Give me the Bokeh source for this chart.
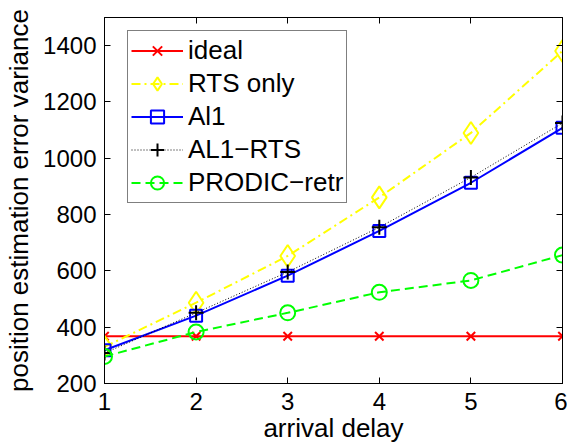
from bokeh.plotting import figure
from bokeh.models import LinearAxis, Range1d, FixedTicker, Legend
from bokeh.embed import file_html
from bokeh.resources import INLINE

delay = [1, 2, 3, 4, 5, 6]
ideal = [368, 368, 368, 368, 368, 368]
rts_only = [330, 487, 653, 861, 1090, 1381]
al1 = [318, 441, 583, 742, 913, 1108]
al1_rts = [308, 451, 596, 755, 932, 1125]
prodic = [296, 383, 451, 524, 566, 656]

x_ticks = [1, 2, 3, 4, 5, 6]
y_ticks = [200, 400, 600, 800, 1000, 1200, 1400]

FONT = "Liberation Sans"
TICK_FS = "24px"
LABEL_FS = "26px"

p = figure(width=567, height=445, output_backend="svg", toolbar_location=None,
           x_range=Range1d(1, 6), y_range=Range1d(200, 1500),
           min_border_left=104, min_border_right=5, min_border_top=17, min_border_bottom=60)
p.xgrid.visible = False
p.ygrid.visible = False
p.outline_line_color = "black"
p.outline_line_width = 1

for ax in (p.xaxis[0], p.yaxis[0]):
    ax.major_tick_in = 6
    ax.major_tick_out = 0
    ax.minor_tick_in = 0
    ax.minor_tick_out = 0
    ax.major_label_text_font = FONT
    ax.major_label_text_font_size = TICK_FS
    ax.major_label_text_color = "black"
    ax.axis_label_text_font = FONT
    ax.axis_label_text_font_size = LABEL_FS
    ax.axis_label_text_font_style = "normal"
    ax.axis_label_text_color = "black"
    ax.axis_line_color = "black"
    ax.major_tick_line_color = "black"

p.xaxis[0].ticker = FixedTicker(ticks=x_ticks)
p.yaxis[0].ticker = FixedTicker(ticks=y_ticks)
p.xaxis[0].axis_label = "arrival delay"
p.yaxis[0].axis_label = "position estimation error variance"
p.xaxis[0].major_label_standoff = 9
p.yaxis[0].major_label_standoff = 8
p.xaxis[0].axis_label_standoff = 0
p.xaxis[0].axis_label_text_line_height = 0.6
p.yaxis[0].axis_label_standoff = 6

right = LinearAxis(ticker=FixedTicker(ticks=y_ticks), major_label_text_font_size="0px",
                   major_tick_in=6, major_tick_out=0, minor_tick_in=0, minor_tick_out=0,
                   major_label_standoff=0, axis_line_color="black", major_tick_line_color="black")
top = LinearAxis(ticker=FixedTicker(ticks=x_ticks), major_label_text_font_size="0px",
                 major_tick_in=6, major_tick_out=0, minor_tick_in=0, minor_tick_out=0,
                 major_label_standoff=0, axis_line_color="black", major_tick_line_color="black")
p.add_layout(right, "right")
p.add_layout(top, "above")

items = []
r1 = p.line(delay, ideal, line_color="red", line_width=2)
m1 = p.scatter(delay, ideal, marker="x", size=12, line_color="red", line_width=2)
items.append(("ideal", [r1, m1]))

r2 = p.line(delay, rts_only, line_color="yellow", line_width=2, line_dash="9 4 2 4")
m2 = p.scatter(delay, rts_only, marker="diamond", size=22, line_color="yellow",
               fill_color=None, line_width=2)
items.append(("RTS only", [r2, m2]))

r3 = p.line(delay, al1, line_color="blue", line_width=2)
m3 = p.scatter(delay, al1, marker="square", size=12, line_color="blue",
               fill_color=None, line_width=2)
items.append(("Al1", [r3, m3]))

r4 = p.line(delay, al1_rts, line_color="black", line_width=1, line_dash="1 2")
m4 = p.scatter(delay, al1_rts, marker="cross", size=15, line_color="black", line_width=2)
items.append(("AL1\u2212RTS", [r4, m4]))

r5 = p.line(delay, prodic, line_color="#00ff00", line_width=2, line_dash="9 5")
m5 = p.scatter(delay, prodic, marker="circle", size=15, line_color="#00ff00",
               fill_color=None, line_width=2)
items.append(("PRODIC\u2212retr", [r5, m5]))

legend = Legend(items=items, location=(23, 180))
legend.label_text_font = FONT
legend.label_text_font_size = LABEL_FS
legend.label_text_color = "black"
legend.border_line_color = "black"
legend.border_line_width = 1
legend.background_fill_alpha = 1
legend.padding = 3
legend.spacing = 0
legend.margin = 0
legend.glyph_height = 33
legend.label_height = 33
legend.glyph_width = 52
legend.label_standoff = 5
p.add_layout(legend, "center")

open("out.html", "w").write(file_html(p, INLINE))
